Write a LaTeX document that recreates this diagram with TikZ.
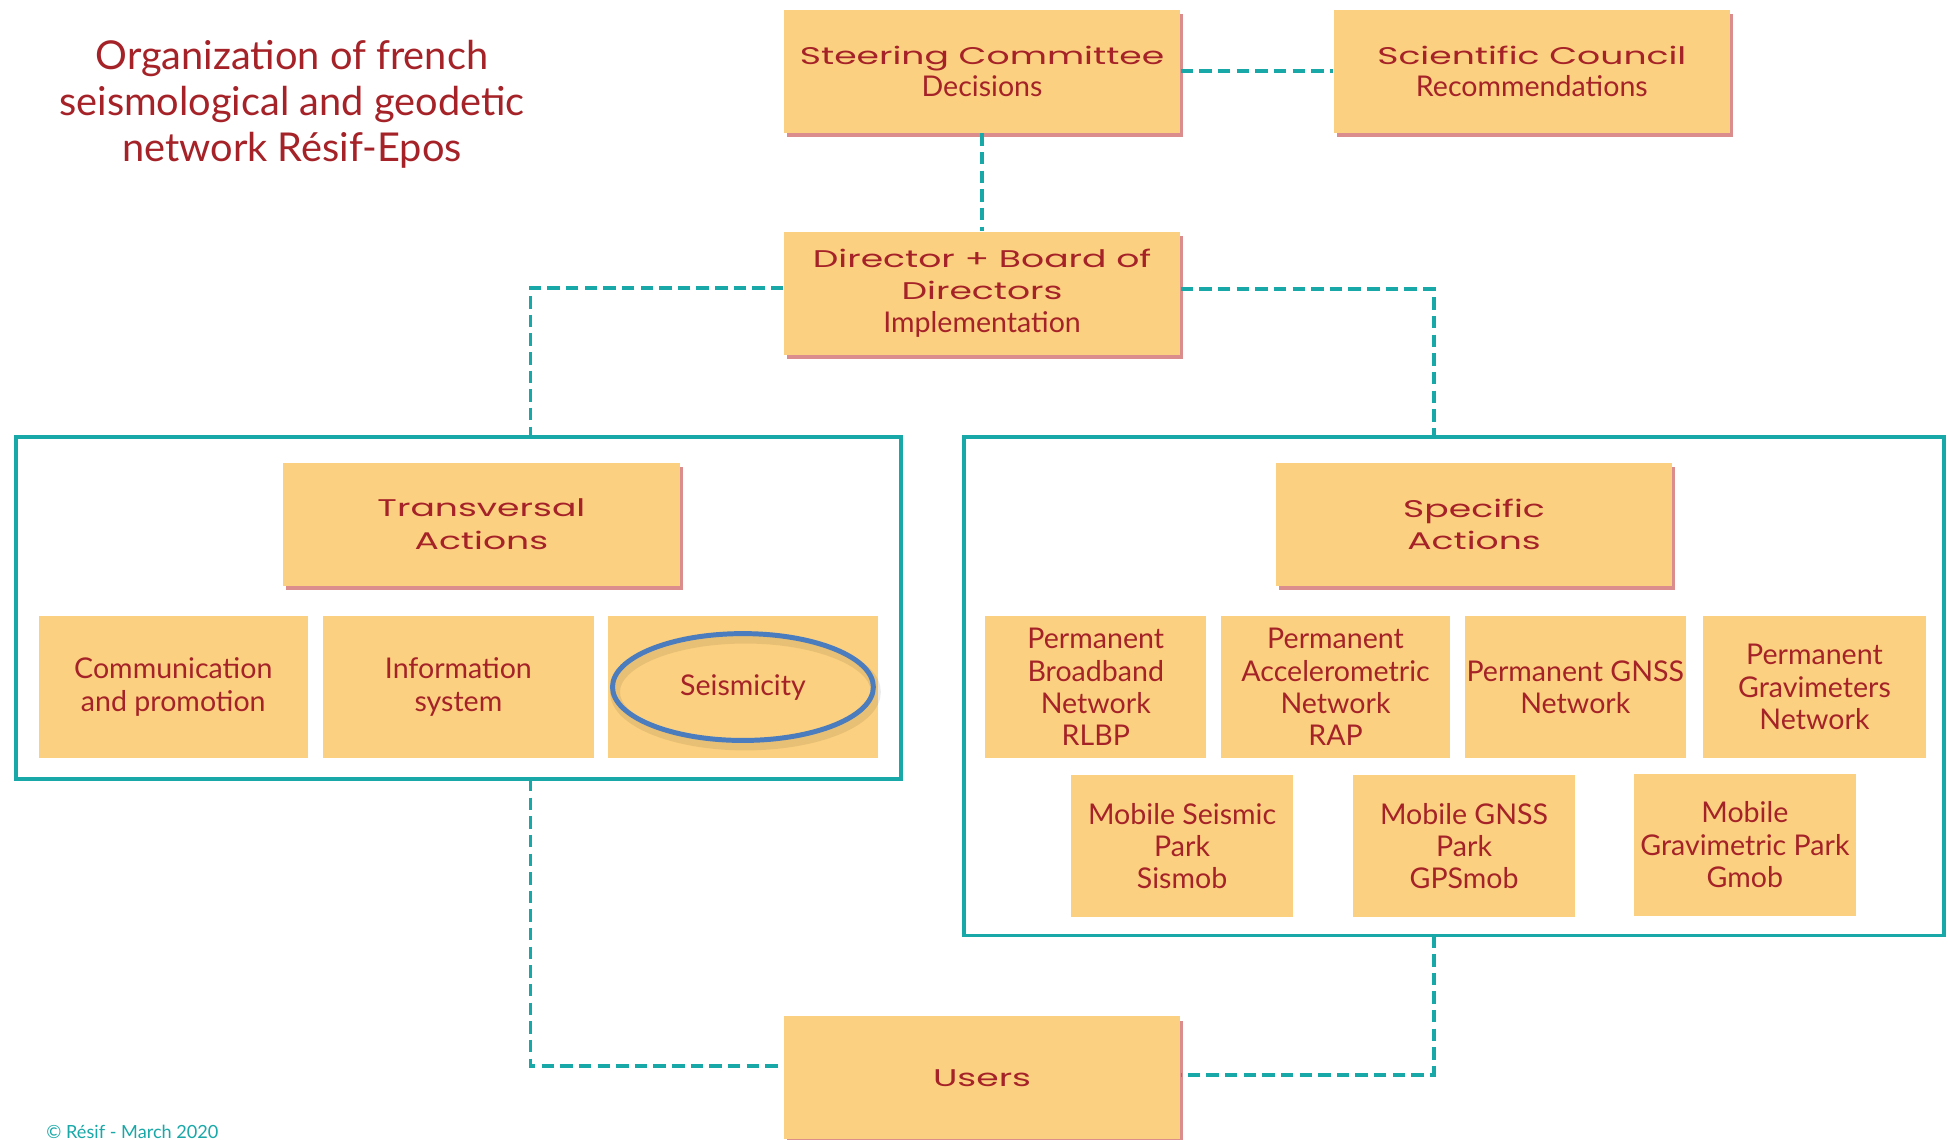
\documentclass[tikz,border=0pt]{standalone}
\usepackage{fontspec}
\setmainfont{Lato}
\newfontfamily\techfont{Poppins}[FakeStretch=1.5]
\usetikzlibrary{shadows,calc}
\definecolor{boxfill}{RGB}{251,208,128}
\definecolor{txtred}{RGB}{165,35,40}
\definecolor{tealc}{RGB}{25,168,168}
\definecolor{shred}{RGB}{195,65,65}
\definecolor{ellblue}{RGB}{74,124,190}
\newcommand{\tech}[1]{{\techfont\fontsize{9.7}{13}\selectfont #1}}
\tikzset{
  base/.style={fill=boxfill, draw=none, align=center, inner sep=0pt, text=txtred,
    font=\fontsize{11.5}{13}\selectfont},
  hdr/.style={base, minimum width=159.5pt, minimum height=49.5pt,
    drop shadow={shadow xshift=1.2pt, shadow yshift=-1.8pt, fill=shred, opacity=.6}},
  sub/.style={base, minimum height=57pt},
  framebox/.style={draw=tealc, line width=1.5pt, fill=none, inner sep=0pt},
  conn/.style={draw=tealc, line width=1.6pt, dash pattern=on 5pt off 2.5pt}
}
\begin{document}
\begin{tikzpicture}[x=0.5pt, y=-0.5pt]
\useasboundingbox (0,0) rectangle (1568,917);
\fill[white] (0,0) rectangle (1568,917);
% title
\node[text=txtred, align=center, font=\fontsize{16}{18.5}\selectfont] (title) at (235,84)
  {Organization of french\\seismological and geodetic\\network Résif-Epos};
% frames
\node[framebox, minimum width=356pt, minimum height=137.5pt] (lframe) at (369,489.5) {};
\node[framebox, minimum width=394.5pt, minimum height=200.5pt] (rframe) at (1170.5,552.5) {};
\coordinate (ltop) at (427,352);
\coordinate (rtop) at (1154,352);
\coordinate (lbot) at (427,627);
\coordinate (rbot) at (1154,753);
% header boxes
\node[hdr] (steer) at (790.5,57.5) {\tech{Steering Committee}\\Decisions};
\node[hdr] (sci) at (1233,57.5) {\tech{Scientific Council}\\Recommendations};
\node[hdr] (dir) at (790.5,236) {\tech{Director + Board of}\\\tech{Directors}\\Implementation};
\node[hdr] (trans) at (387.5,422) {\tech{Transversal}\\\tech{Actions}};
\node[hdr] (spec) at (1186.5,422) {\tech{Specific}\\\tech{Actions}};
\node[hdr, drop shadow={opacity=0}] (users) at (790.5,867.5) {\tech{Users}};
% transversal sub boxes
\node[sub, minimum width=108.5pt] (comm) at (139.5,553) {Communication\\and promotion};
\node[sub, minimum width=109pt] (info) at (369,553) {Information\\system};
\node[sub, minimum width=109pt] (seis) at (598,553) {Seismicity};
% specific sub boxes
\node[sub, minimum width=89pt] (pb1) at (882,553) {Permanent\\Broadband\\Network\\RLBP};
\node[sub, minimum width=92pt] (pb2) at (1075,553) {Permanent\\Accelerometric\\Network\\RAP};
\node[sub, minimum width=89pt] (pb3) at (1268,553) {Permanent GNSS\\Network};
\node[sub, minimum width=89.5pt] (pb4) at (1460.5,553) {Permanent\\Gravimeters\\Network};
\node[sub, minimum width=89.5pt] (m1) at (951.5,681) {Mobile Seismic\\Park\\Sismob};
\node[sub, minimum width=89.5pt] (m2) at (1178.5,681) {Mobile GNSS\\Park\\GPSmob};
\node[sub, minimum width=89.5pt] (m3) at (1404.5,680) {Mobile\\Gravimetric Park\\Gmob};
% highlight ellipse
\draw[black, opacity=.08, line width=4pt] (600,557) ellipse [x radius=105, y radius=43];
\draw[ellblue, line width=2pt] (seis.center) ellipse [x radius=105, y radius=43];
% connectors
\draw[conn] (steer.east) -- (sci.west);
\draw[conn] (steer.south) -- (dir.north);
\draw[conn] ($(dir.west)+(0,-4)$) -| (ltop);
\draw[conn] ($(dir.east)+(0,-3)$) -| (rtop);
\draw[conn] (lbot) |- ($(users.west)+(0,-9.5)$);
\draw[conn] (rbot) |- ($(users.east)+(0,-2.5)$);
% copyright
\node[text=tealc, anchor=west, inner sep=0pt, font=\fontsize{7.3}{8}\selectfont] (copy) at (37,911) {© Résif - March 2020};
\end{tikzpicture}
\end{document}
